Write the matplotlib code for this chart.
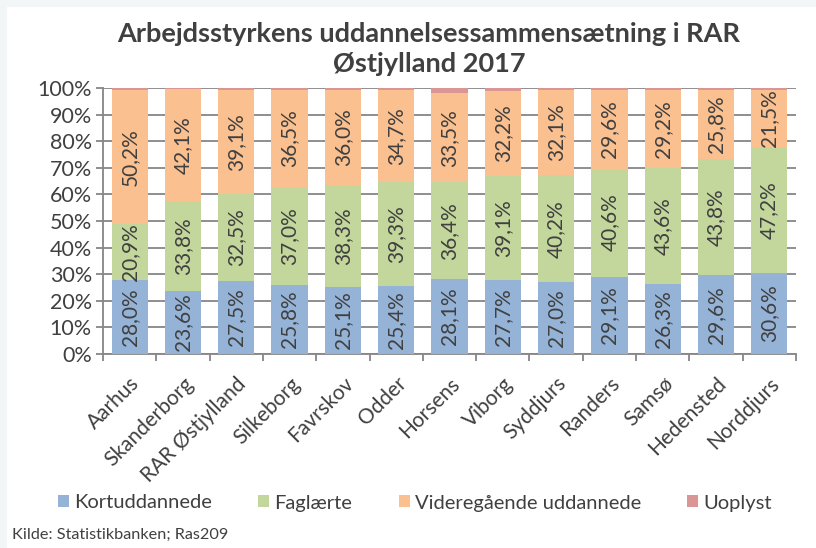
import matplotlib
matplotlib.use("Agg")
import matplotlib.pyplot as plt
import numpy as np
from matplotlib.patches import Rectangle

plt.rcParams['font.family'] = ['Lato', 'DejaVu Sans']

categories = ["Aarhus", "Skanderborg", "RAR Østjylland", "Silkeborg", "Favrskov", "Odder",
              "Horsens", "Viborg", "Syddjurs", "Randers", "Samsø", "Hedensted", "Norddjurs"]
kort = [28.0, 23.6, 27.5, 25.8, 25.1, 25.4, 28.1, 27.7, 27.0, 29.1, 26.3, 29.6, 30.6]
fag = [20.9, 33.8, 32.5, 37.0, 38.3, 39.3, 36.4, 39.1, 40.2, 40.6, 43.6, 43.8, 47.2]
vid = [50.2, 42.1, 39.1, 36.5, 36.0, 34.7, 33.5, 32.2, 32.1, 29.6, 29.2, 25.8, 21.5]
uop = [0.9, 0.5, 0.9, 0.7, 0.6, 0.6, 2.0, 1.0, 0.7, 0.7, 0.9, 0.8, 0.7]
series_names = ["Kortuddannede", "Faglærte", "Videregående uddannede", "Uoplyst"]
colors = ["#95B3D7", "#C3D69B", "#FAC090", "#D99694"]
title = "Arbejdsstyrkens uddannelsessammensætning i RAR\nØstjylland 2017"
source = "Kilde: Statistikbanken; Ras209"

txt = "#404040"
W, H = 816, 548
fig = plt.figure(figsize=(W/100, H/100), dpi=100)
fig.patch.set_facecolor("#F2F6F7")
fig.add_artist(Rectangle((7/W, 0), 1, 1 - 7/H, transform=fig.transFigure,
                         facecolor="white", edgecolor="none", zorder=-10))

ax = fig.add_axes([103/W, 1 - 354/H, (796-103)/W, (354-88)/H])
x = np.arange(len(categories))
data = [kort, fag, vid, uop]
bottom = np.zeros(len(categories))
handles = []
for vals, c, name, k in zip(data, colors, series_names, range(4)):
    vals = np.array(vals)
    b = ax.bar(x, vals / 100, bottom=bottom / 100, width=0.68, color=c, label=name, zorder=3)
    handles.append(b)
    if k < 3:
        for xi, v, bt in zip(x, vals, bottom):
            ax.text(xi, (bt + v / 2) / 100, f"{v:.1f}%".replace(".", ","), rotation=90,
                    ha="center", va="center", fontsize=15, color=txt, zorder=4)
    bottom = bottom + vals

ax.set_xlim(-0.5, len(categories) - 0.5)
ax.set_ylim(0, 1)
ax.set_yticks(np.arange(0, 1.01, 0.1))
ax.set_yticklabels([f"{int(round(t*100))}%" for t in np.arange(0, 1.01, 0.1)], fontsize=15.5, color=txt)
ax.yaxis.grid(True, color="#868686", lw=1.3, zorder=0)
ax.set_axisbelow(True)
for s in ["top", "right"]:
    ax.spines[s].set_visible(False)
for s in ["left", "bottom"]:
    ax.spines[s].set_color("#868686")
    ax.spines[s].set_linewidth(1.3)
ax.tick_params(axis="y", length=5, color="#868686", width=1.3, pad=3)
ax.set_xticks(x)
ax.set_xticklabels(categories, rotation=45, ha="right", rotation_mode="anchor",
                   fontsize=15, color=txt)
ax.tick_params(axis="x", which="major", length=0, pad=14)
ax.set_xticks(np.arange(-0.5, len(categories), 1), minor=True)
ax.tick_params(axis="x", which="minor", length=5, color="#868686", width=1.3)

fig.text(429/W, 1 - 49/H, title, ha="center", va="center", fontsize=19.5, fontweight="bold",
         color=txt, linespacing=1.35)

fig.legend(handles=handles, labels=series_names, loc="center", bbox_to_anchor=(415/W, 1 - 503/H),
           ncol=4, frameon=False, fontsize=14.5, handlelength=0.55, handleheight=0.55,
           handletextpad=0.25, columnspacing=2.3, labelcolor=txt)
fig.text(12/W, 1 - 535/H, source, ha="left", va="center", fontsize=11.7, color=txt)

fig.savefig("out.png", dpi=100)
